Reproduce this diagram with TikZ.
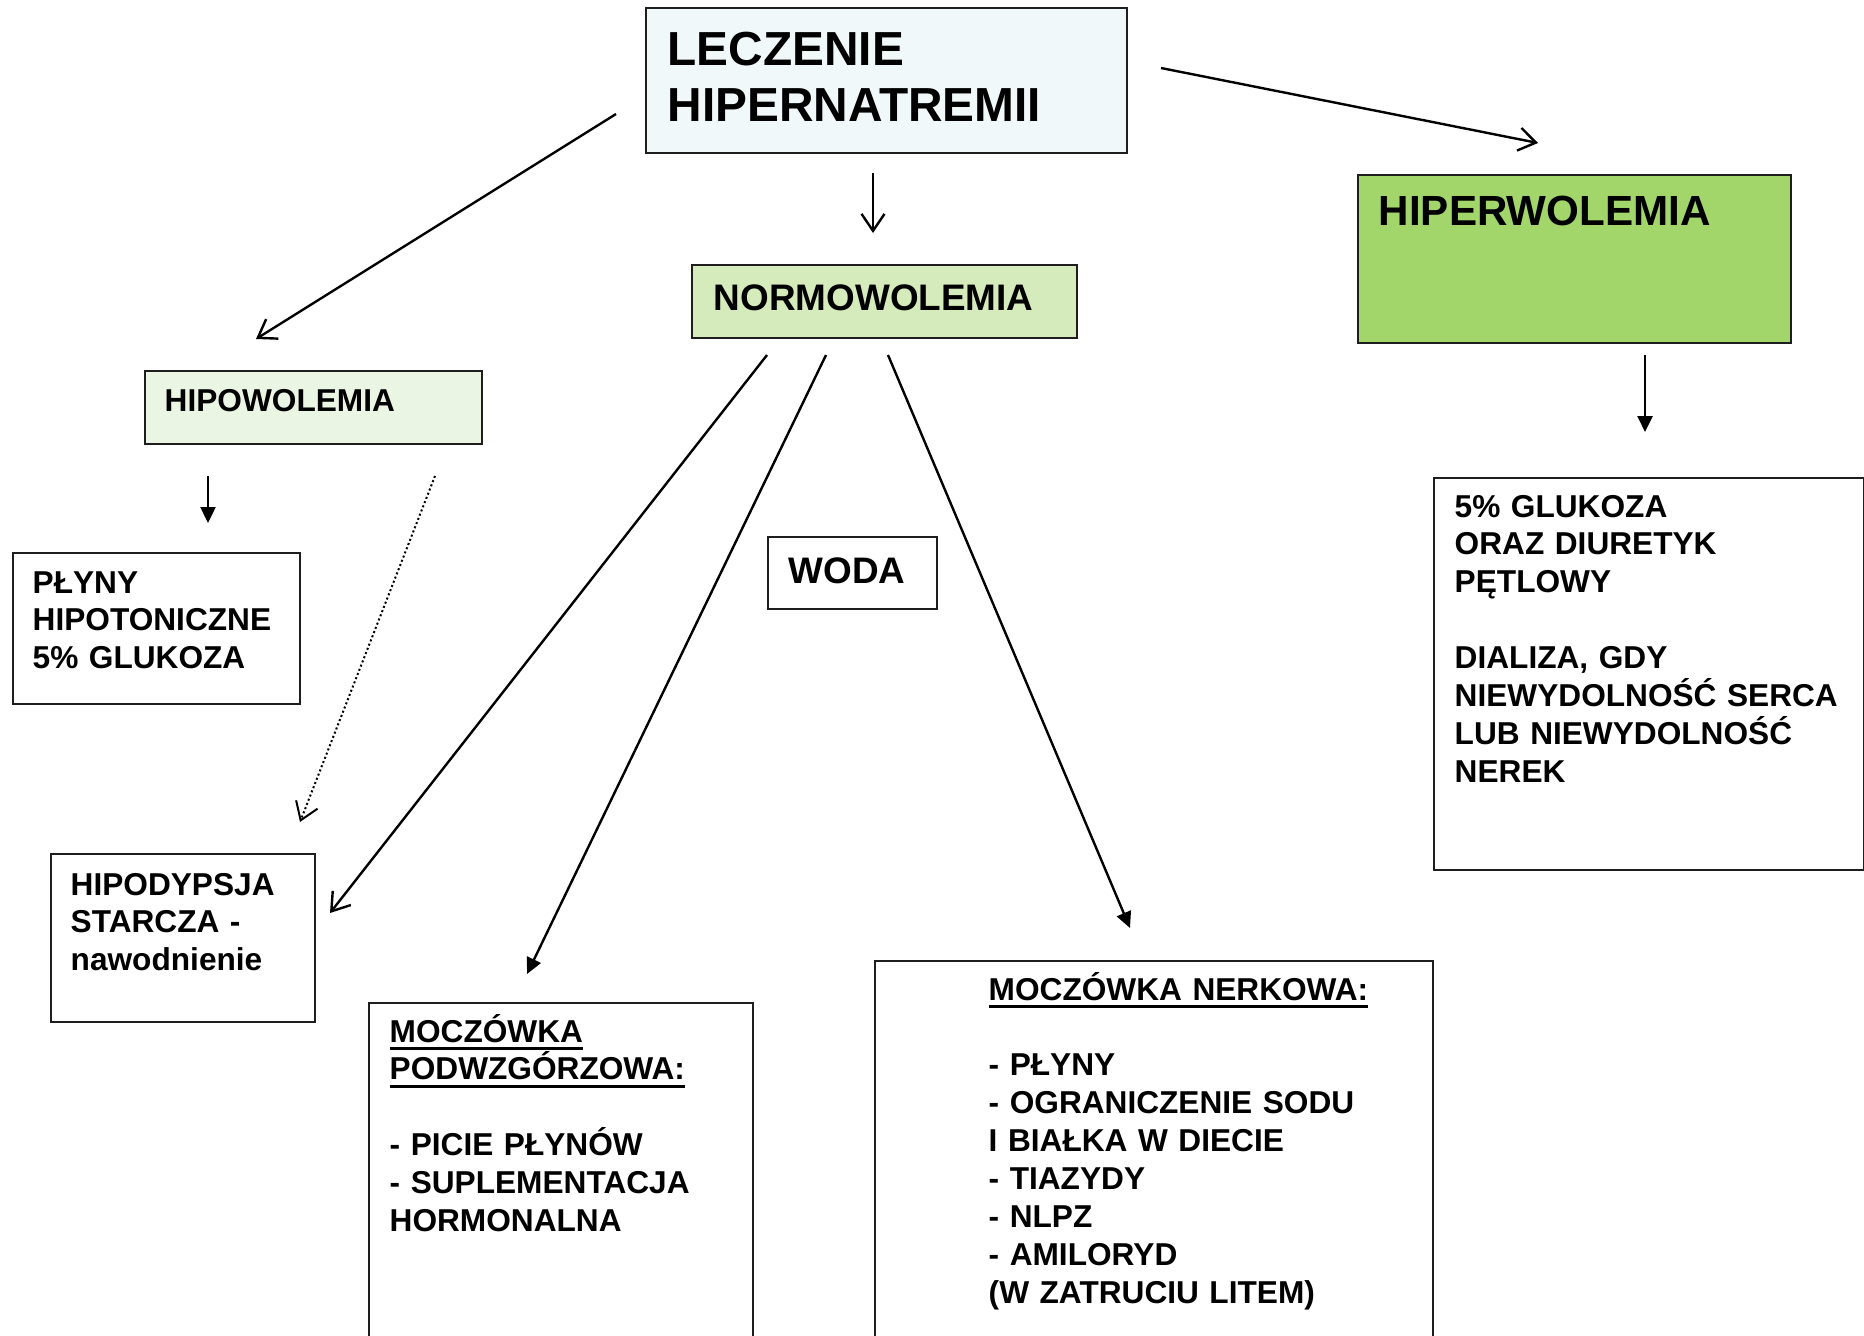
\documentclass[tikz,border=0pt]{standalone}
\usepackage{fontspec}
\setmainfont{Liberation Sans}
\usetikzlibrary{arrows.meta}

\definecolor{leczFill}{RGB}{240,248,250}
\definecolor{normFill}{RGB}{213,235,188}
\definecolor{hiperFill}{RGB}{162,214,106}
\definecolor{hipoFill}{RGB}{235,245,227}
\definecolor{edge}{RGB}{30,30,30}
\newcommand{\ulbox}[1]{\leavevmode\setbox0\hbox{#1}\rlap{\rule[-2.3pt]{\wd0}{0.75pt}}\box0}

\begin{document}
\begin{tikzpicture}[x=0.1mm, y=-0.1mm,
  box/.style={draw=edge, line width=0.2mm, anchor=north west, inner sep=0pt},
  txt/.style={anchor=base west, inner sep=0pt, text width=60mm, align=left,
    font=\bfseries\fontsize{9.0}{10.8}\selectfont},
  arrOpen/.style={line width=0.24mm, -{Straight Barb[length=1.7mm,width=2.3mm]}},
  arrFull/.style={line width=0.24mm, -{Triangle[length=1.6mm,width=1.5mm]}},
  arrDot/.style={line width=0.2mm, dash pattern=on 0.2mm off 0.25mm, -{Straight Barb[length=1.7mm,width=2.3mm]}}]
  \clip (0,0) rectangle (1864,1335);

  % boxes
  \node[box, fill=leczFill, minimum width=48.1mm, minimum height=14.5mm] (lecz) at (645,7) {};
  \node[box, fill=normFill, minimum width=38.5mm, minimum height=7.3mm] (norm) at (691,264) {};
  \node[box, fill=hiperFill, minimum width=43.3mm, minimum height=16.8mm] (hiper) at (1357,174) {};
  \node[box, fill=hipoFill, minimum width=33.7mm, minimum height=7.3mm] (hipo) at (144,370) {};
  \node[box, minimum width=28.7mm, minimum height=15.1mm] (plyny) at (12,552) {};
  \node[box, minimum width=16.9mm, minimum height=7.2mm] (woda) at (767,536) {};
  \node[box, minimum width=26.4mm, minimum height=16.8mm] (hipod) at (50,853) {};
  \node[box, minimum width=38.4mm, minimum height=40mm] (podwz) at (368,1002) {};
  \node[box, minimum width=55.8mm, minimum height=45mm] (nerk) at (874,960) {};
  \node[box, minimum width=43mm, minimum height=39.2mm] (hres) at (1433,477) {};

  % texts
  \node[txt, font=\bfseries\fontsize{13.6}{16.2}\selectfont] (leczT) at (667,65) {LECZENIE\\HIPERNATREMII};
  \node[txt, font=\bfseries\fontsize{10.5}{12.6}\selectfont] (normT) at (713,310) {NORMOWOLEMIA};
  \node[txt, font=\bfseries\fontsize{12}{14.3}\selectfont] (hiperT) at (1378,225) {HIPERWOLEMIA};
  \node[txt] (hipoT) at (164,411) {HIPOWOLEMIA};
  \node[txt] (plynyT) at (32,593) {PŁYNY\\HIPOTONICZNE\\5\% GLUKOZA};
  \node[txt, font=\bfseries\fontsize{10.5}{12.6}\selectfont] (wodaT) at (788,583) {WODA};
  \node[txt] (hipodT) at (70,895) {HIPODYPSJA\\STARCZA -\\nawodnienie};
  \node[txt] (podwzT) at (389,1042) {\ulbox{MOCZÓWKA}\\\ulbox{PODWZGÓRZOWA:}\\\mbox{}\\- PICIE PŁYNÓW\\- SUPLEMENTACJA\\HORMONALNA};
  \node[txt] (nerkT) at (988,1000) {\ulbox{MOCZÓWKA NERKOWA:}\\\mbox{}\\- PŁYNY\\- OGRANICZENIE SODU\\I BIAŁKA W DIECIE\\- TIAZYDY\\- NLPZ\\- AMILORYD\\(W ZATRUCIU LITEM)};
  \node[txt] (hresT) at (1454,517) {5\% GLUKOZA\\ORAZ DIURETYK\\PĘTLOWY\\\mbox{}\\DIALIZA, GDY\\NIEWYDOLNOŚĆ SERCA\\LUB NIEWYDOLNOŚĆ\\NEREK};

  % arrow ends
  \coordinate (lecz1) at (616,114);  \coordinate (hipoIn) at (256,339);
  \coordinate (lecz2) at (873,173);  \coordinate (normIn) at (873,233);
  \coordinate (lecz3) at (1161,68);  \coordinate (hiperIn) at (1538,143);
  \coordinate (hipo1) at (208,476);  \coordinate (plynyIn) at (208,523);
  \coordinate (hipo2) at (435,476);  \coordinate (hipodIn1) at (300,822);
  \coordinate (norm1) at (767,355);  \coordinate (hipodIn2) at (330,913);
  \coordinate (norm2) at (826,355);  \coordinate (podwzIn) at (527,974);
  \coordinate (norm3) at (888,355);  \coordinate (nerkIn) at (1130,928);
  \coordinate (hiper1) at (1645,355); \coordinate (hresIn) at (1645,432);

  % arrows
  \draw[arrOpen] (lecz1) -- (hipoIn);
  \draw[arrOpen] (lecz2) -- (normIn);
  \draw[arrOpen] (lecz3) -- (hiperIn);
  \draw[arrFull] (hipo1) -- (plynyIn);
  \draw[arrDot] (hipo2) -- (hipodIn1);
  \draw[arrOpen] (norm1) -- (hipodIn2);
  \draw[arrFull] (norm2) -- (podwzIn);
  \draw[arrFull] (norm3) -- (nerkIn);
  \draw[arrFull] (hiper1) -- (hresIn);
\end{tikzpicture}
\end{document}
